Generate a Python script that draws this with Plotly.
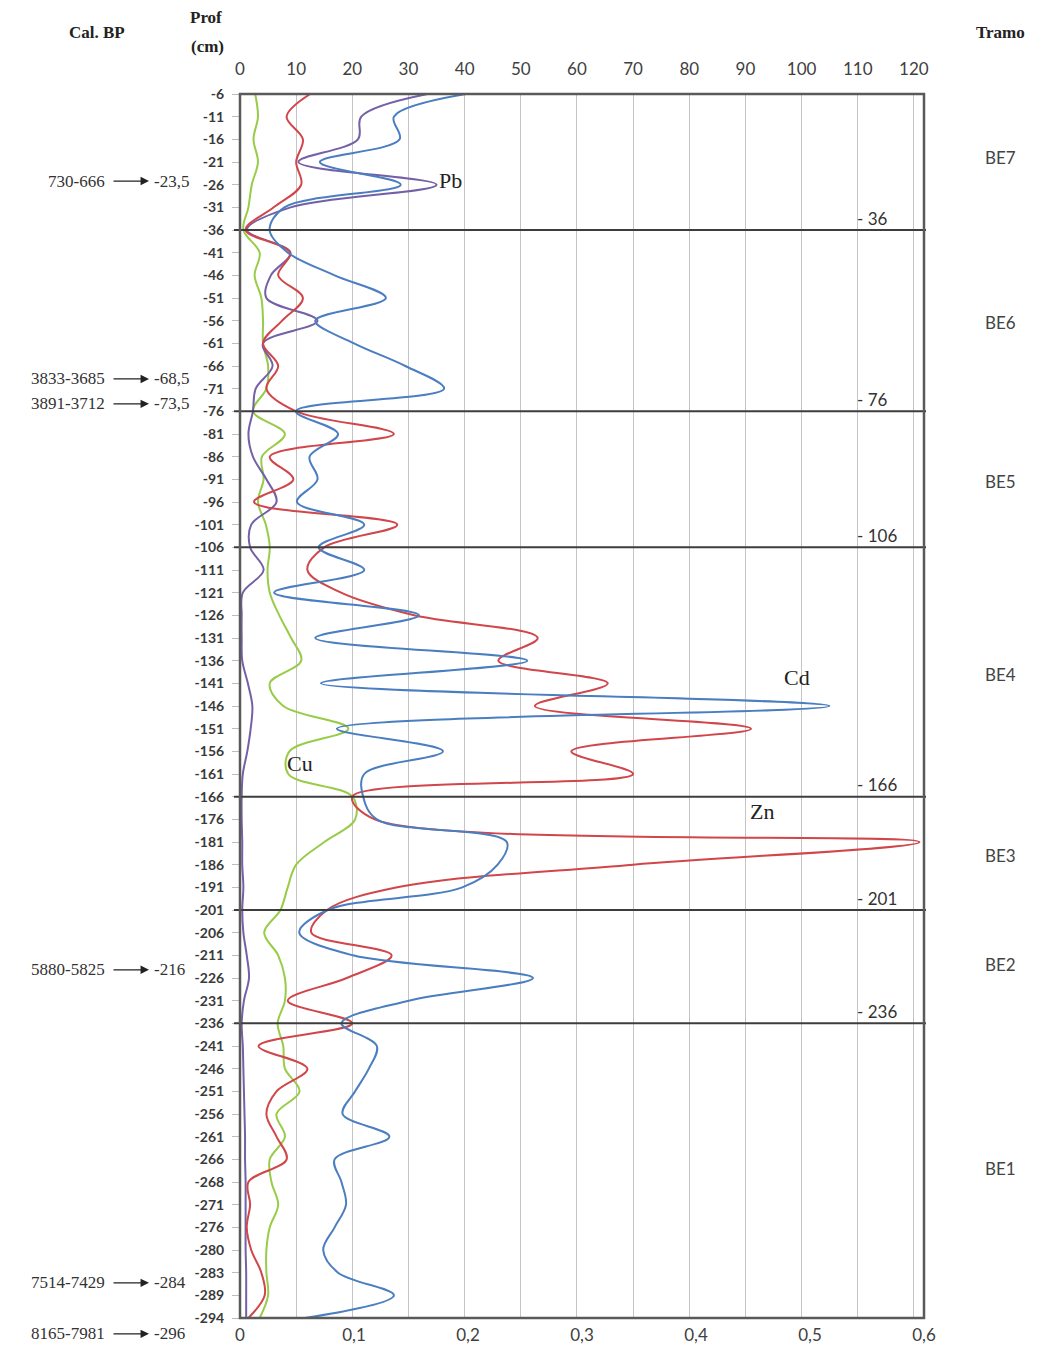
import plotly.graph_objects as go

# ---------------- data ----------------
depth_labels = ["-6", "-11", "-16", "-21", "-26", "-31", "-36", "-41", "-46", "-51",
                "-56", "-61", "-66", "-71", "-76", "-81", "-86", "-91", "-96", "-101",
                "-106", "-111", "-121", "-126", "-131", "-136", "-141", "-146", "-151", "-156",
                "-161", "-166", "-176", "-181", "-186", "-191", "-201", "-206", "-211", "-226",
                "-231", "-236", "-241", "-246", "-251", "-256", "-261", "-266", "-268", "-271",
                "-276", "-280", "-283", "-289", "-294"]

zn = [12.5, 8.3, 11.2, 10, 10.9, 6, 1, 8.9, 6.8, 11.2,
      7.5, 4.1, 6.8, 4.7, 10, 27.4, 5.3, 9.5, 2.5, 28,
      15, 12, 18, 31, 53, 46, 65.5, 52.5, 91, 59,
      70, 20, 24, 121, 70, 28, 15.5, 12.7, 27, 19,
      8.5, 20, 3.3, 12, 6.5, 4.7, 6.5, 8.3, 1.5, 1.8,
      1.2, 2, 3.8, 4.4, 1.5]

cu = [2.7, 3.2, 2.4, 3.2, 2.1, 1.5, 0.6, 3.5, 2.6, 3.8,
      4.1, 4.1, 5, 4.7, 2.3, 8, 3.9, 4.2, 3.2, 4.6,
      5.3, 4.9, 5.3, 7, 9.1, 10.9, 5.3, 7.7, 19.3, 8.8,
      8.6, 20, 20.5, 15, 10, 8.5, 7.2, 4.3, 6.8, 8,
      8, 6.7, 7.7, 8, 10.6, 6.5, 8, 5.3, 5.6, 6.8,
      5.3, 4.7, 4.7, 5, 3.5]

pb = [33.4, 21.6, 21, 10.4, 35, 9, 1.2, 9, 5.5, 4.7,
      13.8, 4.1, 5.8, 2.8, 2.3, 1.5, 2.3, 4.7, 6.5, 2,
      1.8, 4.2, 0.5, 0.3, 0.3, 0.4, 1.4, 2.2, 1.9, 1.3,
      0.5, 0.3, 0.3, 0.4, 0.4, 0.6, 0.4, 0.6, 1.2, 1.6,
      0.7, 0.3, 0.5, 0.6, 0.7, 0.8, 0.9, 0.9, 1, 1,
      1, 1, 1.1, 1.1, 1.1]

cd = [0.198, 0.135, 0.14, 0.07, 0.141, 0.039, 0.026, 0.042, 0.083, 0.128,
      0.066, 0.1, 0.145, 0.179, 0.049, 0.086, 0.061, 0.068, 0.05, 0.109,
      0.069, 0.109, 0.03, 0.157, 0.066, 0.252, 0.071, 0.517, 0.085, 0.178,
      0.109, 0.108, 0.12, 0.234, 0.226, 0.195, 0.077, 0.052, 0.099, 0.257,
      0.148, 0.089, 0.12, 0.113, 0.101, 0.09, 0.131, 0.083, 0.089, 0.093,
      0.083, 0.073, 0.086, 0.135, 0.057]

top_ticks = [0, 10, 20, 30, 40, 50, 60, 70, 80, 90, 100, 110, 120]
bottom_ticks = [0, 0.1, 0.2, 0.3, 0.4, 0.5, 0.6]
bottom_ticktext = ["0", "0,1", "0,2", "0,3", "0,4", "0,5", "0,6"]

boundaries = ["-36", "-76", "-106", "-166", "-201", "-236"]
boundary_text = ["- 36", "- 76", "- 106", "- 166", "- 201", "- 236"]

tramos = ["BE7", "BE6", "BE5", "BE4", "BE3", "BE2", "BE1"]
tramo_pos = [2.78, 10.06, 17.1, 25.6, 33.6, 38.4, 47.4]

cal_bp = ["730-666", "3833-3685", "3891-3712", "5880-5825", "7514-7429", "8165-7981"]
cal_depth = ["-23,5", "-68,5", "-73,5", "-216", "-284", "-296"]
cal_pos = [3.84, 12.57, 13.67, 38.64, 52.45, 54.7]

# ---------------- figure ----------------
W, H = 1048, 1348
L, R, T, B = 240, 924, 94, 1318
idx = list(range(len(depth_labels)))
row_h = (B - T) / (len(depth_labels) - 1)


def px(x):
    return x / W


def py(y):
    return 1 - y / H


def row_paper(p):
    return py(T + p * row_h)


fig = go.Figure()
line_w = 2
fig.add_trace(go.Scatter(x=cu, y=idx, mode="lines", name="Cu", xaxis="x", yaxis="y",
                         line=dict(color="#98CB48", width=line_w, shape="spline", smoothing=1.0)))
fig.add_trace(go.Scatter(x=pb, y=idx, mode="lines", name="Pb", xaxis="x", yaxis="y",
                         line=dict(color="#7460A6", width=line_w, shape="spline", smoothing=1.0)))
fig.add_trace(go.Scatter(x=zn, y=idx, mode="lines", name="Zn", xaxis="x", yaxis="y",
                         line=dict(color="#D0464A", width=line_w, shape="spline", smoothing=1.0)))
fig.add_trace(go.Scatter(x=cd, y=idx, mode="lines", name="Cd", xaxis="x2", yaxis="y",
                         line=dict(color="#4A7EC0", width=line_w, shape="spline", smoothing=1.0)))

tick_font = dict(family="Lato, Open Sans, sans-serif", size=17, color="#404040")

fig.update_layout(
    width=W, height=H,
    margin=dict(l=0, r=0, t=0, b=0, autoexpand=False),
    paper_bgcolor="white", plot_bgcolor="white",
    showlegend=False,
    xaxis=dict(domain=[px(L), px(R)], range=[0, 121.8], side="top", anchor="y",
               tickmode="array", tickvals=top_ticks, showgrid=True, gridcolor="#c4c4c4",
               gridwidth=1, zeroline=False, showline=False, ticks="outside", ticklen=11,
               tickcolor="rgba(0,0,0,0)", tickfont=tick_font, automargin=False),
    xaxis2=dict(overlaying="x", side="bottom", anchor="y", range=[0, 0.6],
                tickmode="array", tickvals=bottom_ticks, ticktext=bottom_ticktext,
                showgrid=False, zeroline=False, showline=False, ticks="outside", ticklen=2,
                tickcolor="rgba(0,0,0,0)", tickfont=tick_font, automargin=False),
    yaxis=dict(domain=[py(B), py(T)], range=[len(depth_labels) - 1, 0],
               tickmode="array", tickvals=idx, ticktext=depth_labels, showgrid=False,
               zeroline=False, showline=False, ticks="outside", ticklen=7,
               tickcolor="#bdbdbd", ticklabelstandoff=5, automargin=False,
               tickfont=dict(family="Lato, Open Sans, sans-serif", size=14, color="#3a3a3a",
                             weight="bold")),
)

shapes = []
# boundary lines
for b in boundaries:
    yi = depth_labels.index(b)
    shapes.append(dict(type="line", xref="paper", yref="y", x0=px(234), x1=px(926),
                       y0=yi, y1=yi, line=dict(color="#3d3d3d", width=2)))
# plot border
shapes.append(dict(type="rect", xref="paper", yref="paper", x0=px(L), x1=px(R),
                   y0=py(B), y1=py(T), line=dict(color="#5a5a5a", width=2.5)))
fig.update_layout(shapes=shapes)

ann = []
serif = "Liberation Serif, Times New Roman, serif"
sans = "Lato, Open Sans, sans-serif"


def text_ann(text, x, y, font, xanchor="center"):
    return dict(text=text, x=x, y=y, xref="paper", yref="paper", xanchor=xanchor,
                yanchor="middle", showarrow=False, font=font)


hdr_font = dict(family=serif, size=17, color="#222")
ann.append(text_ann("<b>Cal. BP</b>", px(97), py(32), hdr_font))
ann.append(text_ann("<b>Prof</b>", px(206), py(18), hdr_font))
ann.append(text_ann("<b>(cm)</b>", px(207), py(46), hdr_font))
ann.append(text_ann("<b>Tramo</b>", px(1000), py(32), hdr_font))

# boundary labels
for b, t in zip(boundaries, boundary_text):
    yi = depth_labels.index(b)
    ann.append(text_ann(t, px(855), row_paper(yi - 0.52),
                        dict(family=sans, size=17, color="#333"), xanchor="left"))

# tramo labels
for t, p in zip(tramos, tramo_pos):
    ann.append(text_ann(t, px(1000), row_paper(p), dict(family=sans, size=17, color="#444")))

# Cal BP annotations
cal_font = dict(family=serif, size=17, color="#333")
for c, d, p in zip(cal_bp, cal_depth, cal_pos):
    yp = row_paper(p)
    ann.append(text_ann(c, px(107), yp, cal_font, xanchor="right"))
    ann.append(dict(text="", x=px(149), y=yp, xref="paper", yref="paper", showarrow=True,
                    axref="pixel", ayref="pixel", ax=-37, ay=0, arrowhead=2,
                    arrowsize=1.3, arrowwidth=1.3, arrowcolor="#222",
                    standoff=0, startstandoff=0))
    ann.append(text_ann(d, px(152), yp, cal_font, xanchor="left"))

# element labels
for t, x, y in [("Pb", 450, 180), ("Cd", 797, 677), ("Cu", 300, 763), ("Zn", 762, 811)]:
    ann.append(text_ann(t, px(x), py(y), dict(family=serif, size=22, color="#222")))

fig.update_layout(annotations=ann)

fig.write_html("out.html", config={"displayModeBar": False},
               post_script="document.body.style.margin='0';")
